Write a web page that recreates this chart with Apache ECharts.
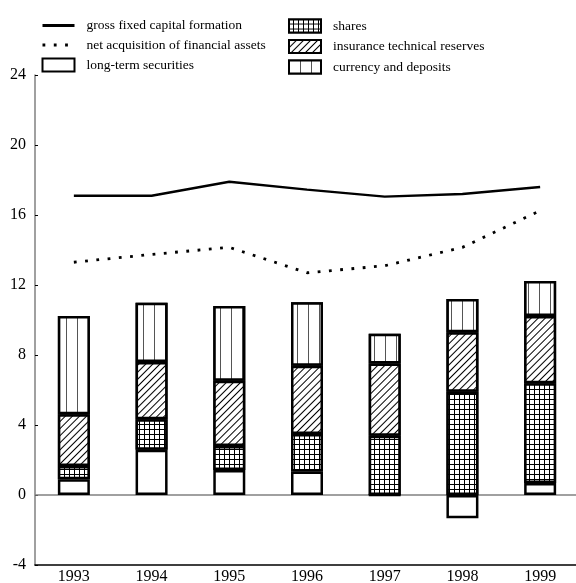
<!DOCTYPE html>
<html><head><meta charset="utf-8">
<script src="https://cdn.jsdelivr.net/npm/echarts@6/dist/echarts.min.js"></script>
<style>html,body{margin:0;padding:0;background:#fff}#c{width:576px;height:583px}</style>
</head><body><div id="c"></div>
<script>
const years = ['1993', '1994', '1995', '1996', '1997', '1998', '1999'];
const longTermSecurities = [0.9, 2.59, 1.43, 1.35, 0, -1.33, 0.69];
const sharesVals = [0.76, 1.74, 1.37, 2.14, 3.39, 5.9, 5.69];
const insuranceVals = [2.95, 3.27, 3.73, 3.9, 4.13, 3.4, 3.85];
const currencyVals = [5.62, 3.39, 4.27, 3.62, 1.7, 1.9, 2.0];
const gfcf = [17.1, 17.1, 17.9, 17.45, 17.05, 17.2, 17.6];
const netAcq = [13.3, 13.75, 14.15, 12.7, 13.1, 14.15, 16.25];
const yTicks = { min: -4, max: 24, interval: 4 };

const FONT = 'Liberation Serif';
const chart = echarts.init(document.getElementById('c'), null, { renderer: 'canvas' });

const barBase = { type: 'bar', stack: 'total', barWidth: 32, z: 2 };
const border = { borderColor: '#000', borderWidth: 2.5 };
const hideSym = { opacity: 0 };

const legendCommon = {
  orient: 'vertical', top: 18.5, itemWidth: 32, itemHeight: 13, itemGap: 5.5,
  padding: 0, selectedMode: false,
  textStyle: { fontFamily: FONT, fontSize: 13.5, color: '#000', padding: [0, 0, 0, 7] }
};

chart.setOption({
  animation: false,
  backgroundColor: '#fff',
  textStyle: { fontFamily: FONT },
  grid: { left: 35, right: -3, top: 75, bottom: 18, outerBoundsMode: 'none', containLabel: false },
  legend: [
    Object.assign({}, legendCommon, {
      left: 41,
      data: [
        { name: 'gross fixed capital formation', itemStyle: hideSym, lineStyle: { width: 3 } },
        { name: 'net acquisition of financial assets', itemStyle: hideSym, lineStyle: { width: 3 } },
        { name: 'long-term securities', icon: 'rect' }
      ]
    }),
    Object.assign({}, legendCommon, {
      left: 288,
      data: [
        { name: 'shares', icon: 'rect' },
        { name: 'insurance technical reserves', icon: 'rect' },
        { name: 'currency and deposits', icon: 'rect' }
      ]
    })
  ],
  xAxis: {
    type: 'category', data: years, boundaryGap: true,
    axisLine: { onZero: false, lineStyle: { color: '#000', width: 1.5 } },
    axisTick: { inside: true, length: 4, lineStyle: { color: '#000' } },
    axisLabel: { color: '#000', fontSize: 16, fontFamily: FONT, margin: 4 }
  },
  yAxis: {
    type: 'value', min: yTicks.min, max: yTicks.max, interval: yTicks.interval,
    splitLine: { show: false },
    axisLine: { show: true, lineStyle: { color: '#808080', width: 1.5 } },
    axisTick: { show: true, inside: true, length: 3, lineStyle: { color: '#000' } },
    axisLabel: { color: '#000', fontSize: 16, fontFamily: FONT, margin: 9 }
  },
  series: [
    Object.assign({}, barBase, {
      name: 'long-term securities', data: longTermSecurities,
      itemStyle: Object.assign({ color: '#fff' }, border),
      markLine: {
        silent: true, symbol: 'none', label: { show: false },
        lineStyle: { color: '#808080', width: 1.5, type: 'solid' },
        data: [{ yAxis: 0 }], z: 1
      }
    }),
    Object.assign({}, barBase, {
      name: 'shares', data: sharesVals,
      itemStyle: Object.assign({
        color: '#fff',
        decal: { symbol: 'rect', symbolSize: 1, color: '#fff', backgroundColor: '#000', dashArrayX: [4, 1], dashArrayY: [4, 1] }
      }, border)
    }),
    Object.assign({}, barBase, {
      name: 'insurance technical reserves', data: insuranceVals,
      itemStyle: Object.assign({
        color: '#fff',
        decal: { symbol: 'rect', symbolSize: 1, color: '#000', backgroundColor: '#fff', dashArrayX: [1, 4], dashArrayY: [5, 0], rotation: Math.PI / 4 }
      }, border)
    }),
    Object.assign({}, barBase, {
      name: 'currency and deposits', data: currencyVals,
      itemStyle: Object.assign({
        color: '#fff',
        decal: { symbol: 'rect', symbolSize: 1, color: '#555', backgroundColor: '#fff', dashArrayX: [1, 9.7], dashArrayY: [5, 0] }
      }, border)
    }),
    {
      name: 'gross fixed capital formation', type: 'line', data: gfcf, symbol: 'none', z: 5,
      lineStyle: { color: '#000', width: 2.5, type: 'solid' },
      itemStyle: { color: '#000' }
    },
    {
      name: 'net acquisition of financial assets', type: 'line', data: netAcq, symbol: 'none', z: 5,
      lineStyle: { color: '#000', width: 2.8, type: [2.8, 8.5], cap: 'butt' },
      itemStyle: { color: '#000' }
    }
  ]
});
</script>
</body></html>
